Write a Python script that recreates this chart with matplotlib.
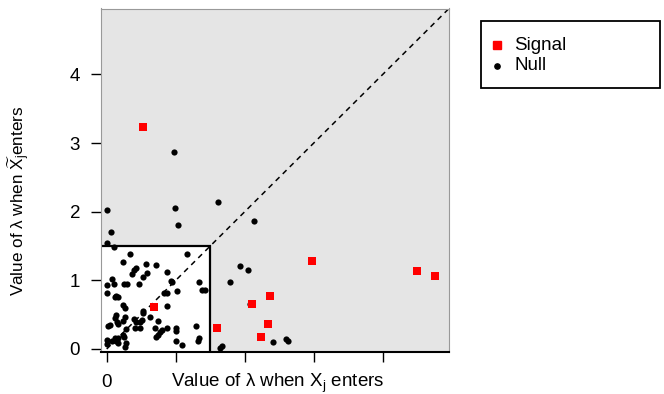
import matplotlib
matplotlib.use("Agg")
import matplotlib.pyplot as plt
from matplotlib.patches import Rectangle
from matplotlib.lines import Line2D

plt.rcParams['font.family'] = ['Liberation Sans', 'DejaVu Sans']
plt.rcParams['mathtext.fontset'] = 'custom'
plt.rcParams['mathtext.rm'] = 'Liberation Sans'
plt.rcParams['mathtext.it'] = 'Liberation Sans'

# lambda at which the original feature X_j enters the path
signal_x = [0.52, 0.69, 1.60, 2.11, 2.36, 2.33, 2.24, 2.97, 4.49, 4.75]
# lambda at which the knockoff copy enters the path
signal_y = [3.23, 0.61, 0.30, 0.66, 0.77, 0.36, 0.17, 1.28, 1.13, 1.06]

null_x = [0.00, 0.11, 0.34, 1.17, 0.24, 0.57, 0.71, 0.42, 0.39, 0.36,
          0.59, 0.87, 0.52, 0.07, 0.93, 0.95, 1.34, 0.01, 0.11, 0.25,
          0.30, 0.47, 0.00, 0.87, 0.83, 1.02, 1.38, 1.42, 0.14, 0.12,
          0.17, 0.23, 0.27, 0.87, 0.53, 0.53, 0.14, 0.12, 0.27, 0.24,
          0.63, 0.39, 0.51, 0.48, 0.43, 0.74, 0.15, 0.17, 0.05, 0.02,
          0.28, 0.41, 0.48, 0.70, 0.80, 0.77, 0.75, 0.72, 0.88, 1.01,
          1.01, 1.30, 1.34, 1.32, 1.00, 1.09, 0.23, 0.25, 0.17, 0.12,
          0.07, 0.14, 0.17, 0.00, 0.00, 0.28, 0.27,
          0.00, 0.06, 0.97, 0.99, 1.03, 1.61, 2.13, 1.93, 2.04, 1.78,
          2.07, 1.67, 1.64, 2.41, 2.60, 2.63]
null_y = [1.54, 1.49, 1.38, 1.38, 1.26, 1.24, 1.22, 1.18, 1.15, 1.09,
          1.11, 1.12, 1.05, 1.02, 0.99, 0.97, 0.98, 0.93, 0.94, 0.95,
          0.94, 0.94, 0.82, 0.82, 0.81, 0.84, 0.86, 0.86, 0.77, 0.75,
          0.75, 0.64, 0.60, 0.63, 0.56, 0.52, 0.49, 0.45, 0.46, 0.41,
          0.47, 0.44, 0.42, 0.40, 0.40, 0.41, 0.40, 0.37, 0.35, 0.33,
          0.29, 0.30, 0.30, 0.30, 0.28, 0.25, 0.20, 0.18, 0.30, 0.31,
          0.26, 0.34, 0.16, 0.11, 0.12, 0.06, 0.20, 0.18, 0.16, 0.16,
          0.12, 0.11, 0.08, 0.13, 0.07, 0.08, 0.03,
          2.03, 1.71, 2.87, 2.06, 1.81, 2.14, 1.87, 1.21, 1.15, 0.98,
          0.66, 0.04, 0.02, 0.10, 0.14, 0.12]

threshold = 1.5
tick_vals = [0, 1, 2, 3, 4]
x_tick_labels = ['0', '', '', '', '']
y_tick_labels = ['0', '1', '2', '3', '4']
legend_labels = ['Signal', 'Null']

FS = 13.5
W, H = 664, 394

fig = plt.figure(figsize=(W / 100, H / 100), dpi=100)
ax = fig.add_axes([101 / W, 1 - 352 / H, 348 / W, 343.5 / H])
ax.set_facecolor('#E5E5E5')
ax.set_xlim(-0.083, 4.96)
ax.set_ylim(-0.044, 4.96)

# region below the threshold in both coordinates
ax.add_patch(Rectangle((-1, -1), 1 + threshold, 1 + threshold,
                       facecolor='white', edgecolor='black', lw=1.6, zorder=1))
ax.plot([0, 6], [0, 6], color='black', lw=1.1, ls=(0, (3.5, 3)), zorder=2)

ax.scatter(null_x, null_y, s=20, c='black', marker='o', lw=0, zorder=3)
ax.scatter(signal_x, signal_y, s=36, c='#FF0000', marker='s', lw=0, zorder=4)

ax.set_xticks(tick_vals)
ax.set_xticklabels(x_tick_labels)
ax.set_yticks(tick_vals)
ax.set_yticklabels(y_tick_labels)
ax.tick_params(axis='both', length=7, width=1, color='black', labelsize=FS)
ax.tick_params(axis='y', pad=8)
ax.tick_params(axis='x', pad=9)

for side in ['top', 'right', 'left']:
    ax.spines[side].set_color('#999999')
    ax.spines[side].set_linewidth(0.8)
ax.spines['bottom'].set_color('black')
ax.spines['bottom'].set_linewidth(1.5)

fig.text(278 / W, 1 - 383 / H, r'Value of $\lambda$ when X$_\mathrm{j}$ enters',
         ha='center', va='center', fontsize=FS)
fig.text(19 / W, 1 - 201 / H, r'Value of $\lambda$ when $\widetilde{\mathrm{X}}_\mathrm{j}$enters',
         ha='center', va='center', rotation=90, fontsize=12.3)

# legend box
fig.patches.append(Rectangle((481 / W, 1 - 88 / H), 179 / W, 67 / H,
                             transform=fig.transFigure, facecolor='white',
                             edgecolor='black', lw=1.3))
fig.add_artist(Line2D([497 / W], [1 - 45 / H], transform=fig.transFigure,
                      ls='none', marker='s', color='#FF0000', markersize=5.5))
fig.add_artist(Line2D([497 / W], [1 - 66 / H], transform=fig.transFigure,
                      ls='none', marker='o', color='black', markersize=3.8))
fig.text(514 / W, 1 - 45 / H, legend_labels[0], ha='left', va='center', fontsize=FS)
fig.text(514 / W, 1 - 66 / H, legend_labels[1], ha='left', va='center', fontsize=FS)

fig.savefig('out.png', dpi=100)
